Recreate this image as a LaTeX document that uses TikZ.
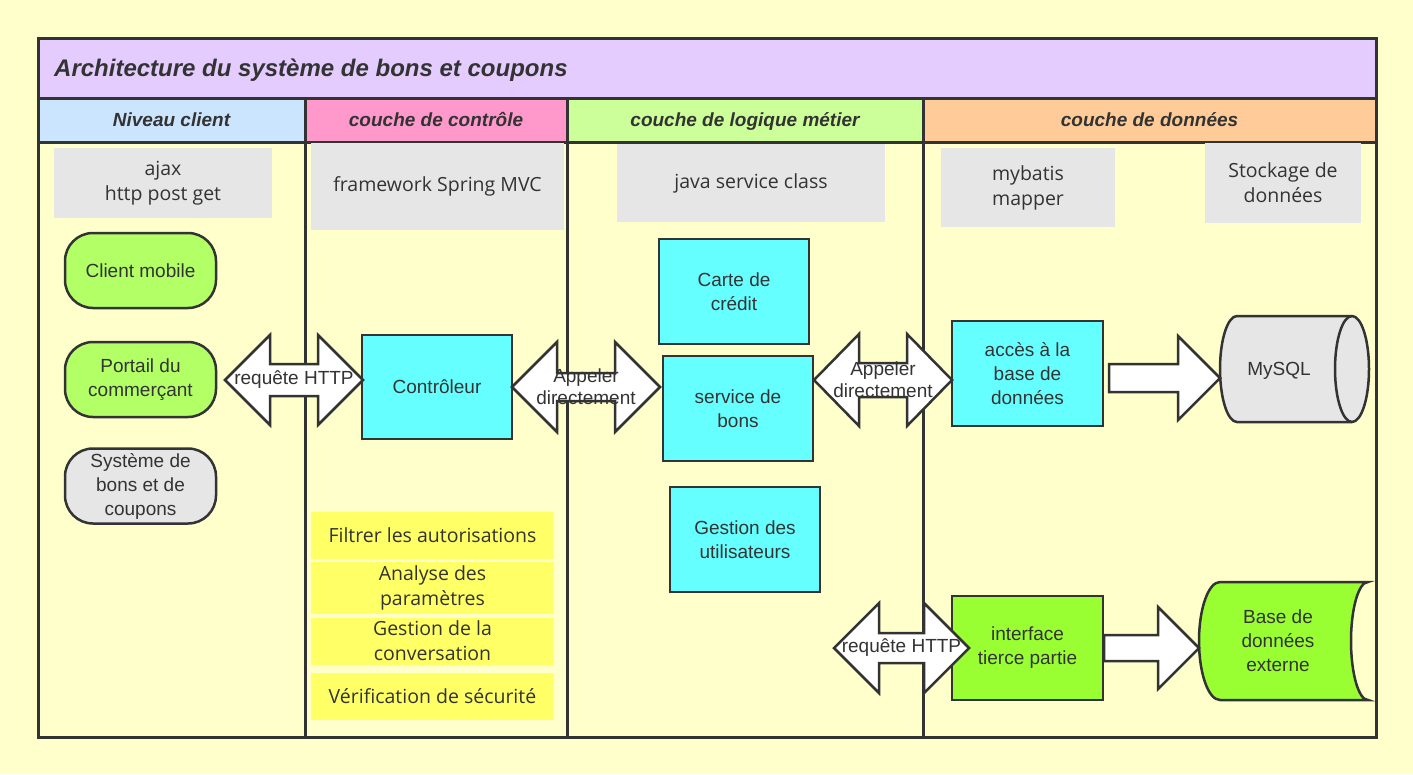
\documentclass[tikz,border=0pt]{standalone}
\usepackage{fontspec}
\setmainfont{Liberation Sans}
\newfontfamily\notefont{Open Sans}
\usepackage{xcolor}
\usepackage{tikz}
\usetikzlibrary{calc}
\definecolor{bgyellow}{RGB}{255, 255, 204}
\definecolor{linegray}{RGB}{51, 51, 51}
\definecolor{titlepurple}{RGB}{229, 204, 255}
\definecolor{clientblue}{RGB}{204, 229, 255}
\definecolor{ctrlpink}{RGB}{255, 153, 204}
\definecolor{logicgreen}{RGB}{204, 255, 153}
\definecolor{dataorange}{RGB}{255, 204, 153}
\definecolor{notegray}{RGB}{230, 230, 230}
\definecolor{clientgreen}{RGB}{179, 255, 102}
\definecolor{svccyan}{RGB}{102, 255, 255}
\definecolor{ctrlyellow}{RGB}{255, 255, 102}
\definecolor{extgreen}{RGB}{153, 255, 51}
\newcommand{\bodytext}{\fontsize{19}{24}\selectfont}
% block arrows: #1 left/tail, #2 right tip, #3 head length, #4 head half height, #5 shaft half height
\newcommand{\dblarrow}[5]{%
  \draw[blockarrow] (#1) -- ($(#1)+(#3,-#4)$) -- ($(#1)+(#3,-#5)$) -- ($(#2)+(-#3,-#5)$)
    -- ($(#2)+(-#3,-#4)$) -- (#2) -- ($(#2)+(-#3,#4)$) -- ($(#2)+(-#3,#5)$)
    -- ($(#1)+(#3,#5)$) -- ($(#1)+(#3,#4)$) -- cycle;}
\newcommand{\sglarrow}[5]{%
  \draw[blockarrow] ($(#1)+(0,-#5)$) -- ($(#2)+(-#3,-#5)$) -- ($(#2)+(-#3,-#4)$) -- (#2)
    -- ($(#2)+(-#3,#4)$) -- ($(#2)+(-#3,#5)$) -- ($(#1)+(0,#5)$) -- cycle;}

\begin{document}
\begin{tikzpicture}[x=1pt, y=-1pt,
  lane/.style={draw=linegray, line width=3pt},
  lanehead/.style={font=\fontsize{19}{22}\selectfont\bfseries\itshape, text=linegray,
    text height=14pt, text depth=4pt},
  note/.style={fill=notegray, font=\notefont\fontsize{19.5}{25}\selectfont, text=linegray, align=center},
  ctrlnote/.style={note, fill=ctrlyellow, minimum width=243, minimum height=47},
  boxline/.style={draw=linegray, line width=2.5pt},
  client/.style={boxline, rounded corners=28pt, fill=clientgreen, minimum width=151, minimum height=75,
    align=center, font=\bodytext, text=linegray},
  svc/.style={boxline, fill=svccyan, minimum width=150, minimum height=105,
    align=center, font=\bodytext, text=linegray},
  blockarrow/.style={draw=linegray, line width=2.5pt, fill=white, line join=miter},
  arrowlabel/.style={align=center, font=\fontsize{19}{22}\selectfont, text=linegray, inner sep=0}]
  \path[use as bounding box, fill=bgyellow] (0,0) rectangle (1413,774);

  % title band and lane headers
  \fill[titlepurple] (38,38) rectangle (1376,98);
  \fill[clientblue] (38,98) rectangle (305,142);
  \fill[ctrlpink] (305,98) rectangle (567,142);
  \fill[logicgreen] (567,98) rectangle (923,142);
  \fill[dataorange] (923,98) rectangle (1376,142);
  \draw[lane] (38,98) -- (1376,98);
  \draw[lane] (38,142) -- (1376,142);
  \foreach \x in {305,567,923} \draw[lane] (\x,98) -- (\x,737);
  \draw[lane] (38,38) rectangle (1376,737);

  \node[anchor=west, inner sep=0, font=\fontsize{24}{28}\selectfont\bfseries\itshape, text=linegray]
    (title) at (54,70) {Architecture du système de bons et coupons};
  \node[lanehead] (hclient) at (171.5,121) {Niveau client};
  \node[lanehead] (hctrl) at (436,121) {couche de contrôle};
  \node[lanehead] (hlogic) at (745,121) {couche de logique métier};
  \node[lanehead] (hdata) at (1149.5,121) {couche de données};

  % grey notes
  \node[note, minimum width=218, minimum height=70] (ajax) at (163,183) {ajax\\http post get};
  \node[note, minimum width=253, minimum height=87] (spring) at (437.5,186.5) {framework Spring MVC};
  \node[note, minimum width=268, minimum height=78] (javasvc) at (751,183) {java service class};
  \node[note, minimum width=174, minimum height=79] (mybatis) at (1028,187.5) {mybatis\\mapper};
  \node[note, minimum width=156, minimum height=80] (stockage) at (1283,183) {Stockage de\\données};

  % client lane
  \node[client] (mobile) at (140.5,270.5) {Client mobile};
  \node[client] (portail) at (140.5,379.5) {Portail du\\commerçant};
  \node[client, fill=notegray] (systeme) at (140.5,486) {Système de\\bons et de\\coupons};

  % control lane
  \node[svc, minimum height=104] (ctrl) at (437,387) {Contrôleur};
  \node[ctrlnote] (filtrer) at (432.5,535.5) {Filtrer les autorisations};
  \node[ctrlnote] (analyse) at (432.5,588) {Analyse des\\paramètres};
  \node[ctrlnote] (session) at (432.5,641) {Gestion de la\\conversation};
  \node[ctrlnote] (securite) at (432.5,696) {Vérification de sécurité};

  % business logic lane
  \node[svc] (carte) at (734,291.5) {Carte de\\crédit};
  \node[svc] (service) at (738,408.5) {service de\\bons};
  \node[svc] (users) at (745,539.5) {Gestion des\\utilisateurs};

  % data lane
  \node[svc, minimum width=151] (acces) at (1027.5,373.5) {accès à la\\base de\\données};
  \node[svc, fill=extgreen, minimum width=151, minimum height=104] (tiers) at (1027.5,648) {interface\\tierce partie};
  \draw[boxline, fill=notegray] (1237,316) -- (1352,316) arc[start angle=-90, end angle=90, x radius=17, y radius=53]
    -- (1237,422) arc[start angle=90, end angle=270, x radius=17, y radius=53] -- cycle;
  \draw[boxline] (1352,316) arc[start angle=270, end angle=90, x radius=17, y radius=53];
  \node[font=\bodytext, text=linegray] (mysql) at (1279,371) {MySQL};
  \draw[boxline, fill=extgreen] (1220,582) -- (1368,582) arc[start angle=-90, end angle=-270, x radius=17, y radius=59]
    -- (1220,700) arc[start angle=90, end angle=270, x radius=21, y radius=59] -- cycle;
  \node[align=center, font=\bodytext, text=linegray] (extdb) at (1278,641) {Base de\\données\\externe};

  % block arrows
  \coordinate (http1L) at (225,380);
  \coordinate (http1R) at (363,380);
  \coordinate (call1L) at (512,387);
  \coordinate (call1R) at (660,387);
  \coordinate (call2L) at (814,380);
  \coordinate (call2R) at (952,380);
  \coordinate (http2L) at (834,648);
  \coordinate (http2R) at (969,648);
  \coordinate (dbTail) at (1109,378);
  \coordinate (dbTip) at (1220,378);
  \coordinate (extTail) at (1104,648);
  \coordinate (extTip) at (1199,648);
  \dblarrow{http1L}{http1R}{45}{45}{16}
  \dblarrow{call1L}{call1R}{45}{45}{14}
  \dblarrow{call2L}{call2R}{45}{46}{17}
  \dblarrow{http2L}{http2R}{45}{45}{15}
  \sglarrow{dbTail}{dbTip}{42}{42}{14}
  \sglarrow{extTail}{extTip}{41}{41}{13}
  \node[arrowlabel] (lhttp1) at ($(http1L)!0.5!(http1R)$) {requête HTTP};
  \node[arrowlabel] (lcall1) at ($(call1L)!0.5!(call1R)$) {Appeler\\directement};
  \node[arrowlabel] (lcall2) at ($(call2L)!0.5!(call2R)$) {Appeler\\directement};
  \node[arrowlabel] (lhttp2) at ($(http2L)!0.5!(http2R)$) {requête HTTP};
\end{tikzpicture}
\end{document}
